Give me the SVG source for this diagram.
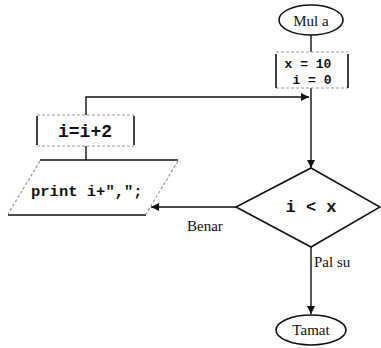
<svg xmlns="http://www.w3.org/2000/svg" width="381" height="348" viewBox="0 0 381 348">
<defs>
<marker id="ah" viewBox="0 0 10 10" refX="10" refY="5" markerWidth="8" markerHeight="8" markerUnits="userSpaceOnUse" orient="auto">
<path d="M0,0 L10,5 L0,10 z" fill="#111"/>
</marker>
<style>
.line{stroke:#111;stroke-width:1.4;fill:none}
.solid{stroke:#111;stroke-width:1.6;fill:none}
.dash{stroke:#999;stroke-width:1.2;stroke-dasharray:3 2;fill:none}
.mono{font-family:"Liberation Mono","DejaVu Sans Mono",monospace;font-weight:bold;fill:#111}
.lbl{font-family:"Liberation Serif","DejaVu Serif",serif;font-size:15px;fill:#111}
</style>
</defs>
<rect width="381" height="348" fill="#fff"/>
<g id="connectors">
<line class="line" x1="311" y1="35" x2="311" y2="52"/>
<line class="line" x1="311" y1="88" x2="311" y2="168" marker-end="url(#ah)"/>
<polyline class="line" points="86,115 86,97 309,97" marker-end="url(#ah)"/>
<line class="line" x1="86" y1="146" x2="86" y2="160"/>
<line class="line" x1="236" y1="207" x2="151" y2="207" marker-end="url(#ah)"/>
<line class="line" x1="311" y1="247" x2="311" y2="314" marker-end="url(#ah)"/>
</g>
<g id="mula">
<ellipse class="solid" cx="311" cy="20" rx="32" ry="15"/>
<text class="lbl" x="311" y="26" text-anchor="middle" font-size="17">Mul a</text>
</g>
<g id="init">
<line class="dash" x1="276" y1="52" x2="348" y2="52"/>
<line class="dash" x1="276" y1="88" x2="348" y2="88"/>
<line class="solid" x1="276" y1="54" x2="276" y2="88"/>
<line class="solid" x1="348" y1="54" x2="348" y2="88"/>
<text class="mono" x="308" y="68" text-anchor="middle" font-size="13">x = 10</text>
<text class="mono" x="312" y="84" text-anchor="middle" font-size="13">i = 0</text>
</g>
<g id="inc">
<line class="dash" x1="37" y1="115" x2="134" y2="115"/>
<line class="dash" x1="37" y1="146" x2="134" y2="146"/>
<line class="solid" x1="37" y1="116" x2="37" y2="145"/>
<line class="solid" x1="134" y1="116" x2="134" y2="145"/>
<text class="mono" x="85" y="137" text-anchor="middle" font-size="18">i=i+2</text>
</g>
<g id="print">
<line class="solid" x1="40" y1="160" x2="178" y2="160"/>
<line class="solid" x1="8" y1="215" x2="146" y2="215"/>
<line class="dash" x1="40" y1="161" x2="8" y2="214"/>
<line class="dash" x1="178" y1="161" x2="146" y2="214"/>
<text class="mono" x="31" y="196" font-size="15.5">print i+",";</text>
</g>
<g id="cond">
<polygon class="solid" points="311,168 380,207 311,247 236,207"/>
<text class="mono" x="311" y="212" font-size="17" text-anchor="middle">i &lt; x</text>
</g>
<g id="tamat">
<ellipse class="solid" cx="311" cy="330" rx="35" ry="15"/>
<text class="lbl" x="311" y="335" text-anchor="middle" font-size="16">Tamat</text>
</g>
<text class="lbl" x="187" y="231" font-size="16">Benar</text>
<text class="lbl" x="314" y="267" font-size="16">Pal su</text>
</svg>
